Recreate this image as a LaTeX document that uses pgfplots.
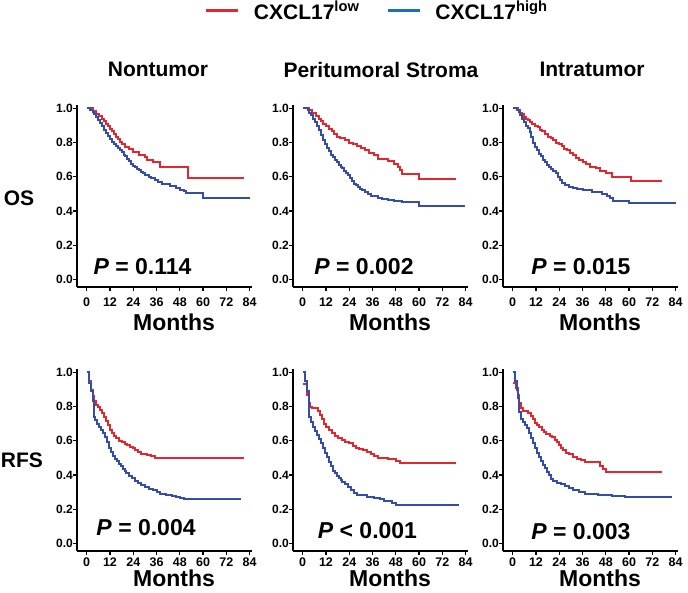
\documentclass[border=0pt]{standalone}
\usepackage{pgfplots}
\pgfplotsset{compat=1.18}
\usepackage{fontspec}
\setmainfont{Liberation Sans}
\definecolor{cred}{RGB}{228,38,46}
\definecolor{cblue}{RGB}{52,78,168}
\definecolor{lblue}{RGB}{30,110,190}
\pgfplotsset{
  km/.style={
    width=174.6pt, height=182pt, scale only axis,
    xmin=-5, xmax=85, ymin=-0.045, ymax=1.02,
    axis x line*=bottom, axis y line*=left,
    xtick={0,12,24,36,48,60,72,84},
    ytick={0,0.2,0.4,0.6,0.8,1.0},
    tick align=outside, major tick length=4pt,
    axis line style={line width=1.4pt},
    tick style={line width=1.2pt, black},
    /pgf/number format/assume math mode=true,
    xticklabel={\pgfmathprintnumber{\tick}},
    yticklabel={\pgfmathprintnumber[fixed,fixed zerofill,precision=1]{\tick}},
    xticklabel style={anchor=north, inner sep=0pt, font=\fontsize{12.5}{12.5}\selectfont\bfseries},
    yticklabel style={anchor=east, inner sep=0pt, font=\fontsize{12}{12}\selectfont\bfseries},
    xlabel={Months},
    xlabel style={font=\fontsize{23}{23}\selectfont\bfseries, at={(axis description cs:0.556,0)}, anchor=center},
    clip=false,
  },
  rowone/.style={xlabel style={yshift=-35pt}, xticklabel style={yshift=-7pt}},
  rowtwo/.style={xlabel style={yshift=-27pt}, xticklabel style={yshift=-3pt}},
  redc/.style={cred, line width=2pt, const plot, forget plot},
  bluec/.style={cblue, line width=2pt, const plot, forget plot},
}
\newcommand{\pfont}{\fontsize{23}{23}\selectfont\bfseries}
\begin{document}
\begin{tikzpicture}[x=1pt,y=1pt]
\useasboundingbox (0,0) rectangle (688,592);
\node[font=\fontsize{21}{21}\selectfont\bfseries] at (158,522.5) {Nontumor};
\node[font=\fontsize{21}{21}\selectfont\bfseries] at (381,522.5) {Peritumoral Stroma};
\node[font=\fontsize{21}{21}\selectfont\bfseries] at (592,522.5) {Intratumor};
\node[font=\fontsize{21}{21}\selectfont\bfseries] at (19,394) {OS};
\node[font=\fontsize{21}{21}\selectfont\bfseries] at (22,132) {RFS};

% ---------- Row 1: OS ----------
\begin{axis}[km, rowone, at={(77pt,305pt)}, anchor=south west,
  legend style={at={(axis description cs:0.733,1.5165)}, anchor=west, draw=none, fill=none,
    inner sep=0pt, outer sep=0pt, legend columns=2, column sep=0pt,
    font=\fontsize{21}{21}\selectfont\bfseries, nodes={inner sep=0pt}},
  legend image code/.code={\draw[#1] (0pt,0pt) -- (32pt,0pt); \path (46pt,0pt);}]
\addlegendimage{cred, line width=3pt}
\addlegendentry{CXCL17\textsuperscript{low}\hspace*{27pt}}
\addlegendimage{lblue, line width=3pt}
\addlegendentry{CXCL17\textsuperscript{high}}
\addplot[redc] coordinates {
(0,1.0) (3,0.985) (5,0.97) (6.5,0.955) (8,0.94) (9,0.925) (10,0.91) (11,0.895) (12,0.88) (13,0.865)
(14,0.85) (15,0.835) (16,0.82) (17,0.805) (18,0.79) (20,0.775) (22,0.76) (24,0.745) (27,0.73)
(30,0.715) (31,0.70) (34,0.685) (38,0.655) (52,0.595) (81,0.595)};
\addplot[bluec] coordinates {
(0,1.0) (1.5,0.99) (3,0.98) (4,0.965) (5,0.95) (6,0.935) (7,0.915) (8,0.895) (9,0.875) (10,0.855)
(11,0.84) (12,0.82) (13,0.805) (14,0.79) (15,0.78) (16,0.77) (17,0.755) (18,0.745) (19,0.73)
(20,0.72) (21,0.705) (22,0.69) (23,0.675) (24,0.665) (25,0.655) (26,0.645) (27,0.64) (28,0.63)
(29,0.62) (30,0.61) (32,0.60) (33,0.59) (35,0.58) (37,0.57) (39,0.56) (41,0.555) (43,0.545)
(46,0.535) (48,0.525) (50,0.515) (51,0.505) (60,0.475) (84,0.475)};
\node[font=\pfont] at (axis cs:28.8,0.075) {\textit{P} = 0.114};
\end{axis}

\begin{axis}[km, rowone, at={(293pt,305pt)}, anchor=south west]
\addplot[redc] coordinates {
(0,1.0) (3,0.99) (5,0.975) (7,0.955) (8.5,0.94) (9.5,0.925) (10.5,0.91) (12,0.895) (13.5,0.88)
(15,0.865) (16,0.85) (17.5,0.835) (19,0.825) (22,0.815) (24,0.80) (26,0.79) (28,0.78) (30,0.77)
(32,0.755) (34,0.74) (37,0.725) (39,0.705) (44,0.69) (47,0.675) (49,0.66) (50,0.64) (51,0.615)
(60,0.585) (79,0.585)};
\addplot[bluec] coordinates {
(0,1.0) (2.5,0.99) (3.5,0.975) (4.5,0.96) (5.5,0.94) (6.5,0.92) (7.5,0.90) (8.5,0.875) (9.5,0.845)
(10.5,0.815) (11.5,0.79) (12.5,0.77) (13.5,0.75) (14.5,0.73) (15.5,0.715) (16.5,0.70) (17.5,0.685)
(18.5,0.67) (19.5,0.66) (20.5,0.65) (21.5,0.635) (22.5,0.625) (23.5,0.61) (24.5,0.59) (25.5,0.575)
(26.5,0.56) (27.5,0.55) (28.5,0.54) (29.5,0.53) (30.5,0.52) (32,0.51) (33.5,0.50) (35,0.49)
(37,0.485) (39,0.475) (41,0.47) (44,0.465) (47,0.46) (51,0.455) (60,0.43) (83.5,0.43)};
\node[font=\pfont] at (axis cs:31.6,0.075) {\textit{P} = 0.002};
\end{axis}

\begin{axis}[km, rowone, at={(503pt,305pt)}, anchor=south west]
\addplot[redc] coordinates {
(0,1.0) (2.5,0.99) (4,0.975) (5,0.965) (6,0.95) (7,0.94) (8,0.93) (9,0.92) (10,0.91) (11.5,0.90)
(13,0.89) (14,0.875) (15,0.865) (16.5,0.85) (18,0.835) (19.5,0.825) (21,0.815) (22.5,0.80)
(24,0.79) (25.5,0.78) (26.5,0.765) (28,0.755) (29.5,0.74) (31,0.725) (32.5,0.71) (34,0.70)
(36,0.685) (38,0.675) (40,0.66) (43,0.65) (45,0.635) (48,0.62) (51,0.60) (61,0.575) (77,0.575)};
\addplot[bluec] coordinates {
(0,1.0) (2,0.99) (3,0.98) (4,0.96) (5,0.94) (6,0.92) (7,0.90) (8,0.885) (9,0.86) (9.5,0.83)
(10.5,0.80) (11.5,0.775) (12.5,0.755) (13.5,0.735) (14.5,0.72) (15.5,0.70) (16.5,0.685)
(17.5,0.67) (18.5,0.655) (19.5,0.645) (21,0.635) (22.5,0.625) (23.5,0.60) (24.5,0.58)
(25.5,0.565) (27,0.55) (29,0.54) (31,0.535) (33,0.53) (36,0.52) (41,0.51) (46,0.50) (48.5,0.49)
(50,0.475) (51.5,0.46) (60,0.445) (84,0.445)};
\node[font=\pfont] at (axis cs:35.2,0.075) {\textit{P} = 0.015};
\end{axis}

% ---------- Row 2: RFS ----------
\begin{axis}[km, rowtwo, at={(77pt,41pt)}, anchor=south west]
\addplot[redc] coordinates {
(0,1.0) (1,0.95) (2,0.90) (3,0.86) (4,0.83) (5,0.81) (6,0.795) (7,0.78) (8,0.76) (9,0.74)
(10,0.715) (11,0.69) (12,0.665) (13,0.645) (14,0.63) (15,0.615) (16.5,0.60) (18,0.59) (19.5,0.58)
(21,0.575) (22.5,0.565) (24,0.555) (25,0.545) (26.5,0.535) (28,0.525) (31,0.515) (33,0.51)
(35,0.50) (81,0.50)};
\addplot[bluec] coordinates {
(0,1.0) (1,0.94) (2,0.89) (3,0.83) (3.7,0.74) (4.5,0.72) (5.5,0.70) (6.5,0.68) (7.5,0.665)
(8.5,0.645) (9.5,0.62) (10.5,0.59) (11.5,0.56) (12.5,0.535) (13.5,0.51) (14.5,0.495) (15.5,0.48)
(16.5,0.465) (17.5,0.45) (18.5,0.435) (19.5,0.425) (20.5,0.41) (22,0.395) (23.5,0.38) (25,0.365)
(26.5,0.35) (28,0.34) (30,0.33) (32,0.32) (34,0.31) (36,0.30) (38,0.29) (41,0.285) (44,0.275)
(46,0.27) (48,0.265) (50,0.258) (79.5,0.258)};
\node[font=\pfont] at (axis cs:30.6,0.09) {\textit{P} = 0.004};
\end{axis}

\begin{axis}[km, rowtwo, at={(293pt,41pt)}, anchor=south west]
\addplot[redc] coordinates {
(0,0.93) (2,0.87) (3,0.82) (4,0.80) (5,0.79) (8,0.775) (9,0.75) (10,0.73) (11,0.70) (12,0.68)
(13.5,0.665) (15,0.645) (16.5,0.63) (18,0.615) (20,0.605) (22,0.595) (24,0.585) (26,0.57)
(27.5,0.56) (29,0.55) (31,0.545) (33,0.535) (35,0.52) (37,0.51) (39,0.50) (44,0.495) (48,0.48)
(50,0.47) (79,0.47)};
\addplot[bluec] coordinates {
(0,1.0) (1,0.95) (2,0.89) (3,0.83) (3.5,0.74) (4.5,0.71) (5.5,0.68) (6.5,0.655) (7.5,0.635)
(8.5,0.61) (9.5,0.585) (10.5,0.555) (11.5,0.53) (12.5,0.505) (13.5,0.475) (14.5,0.45) (15.5,0.425)
(16.5,0.41) (17.5,0.395) (18.5,0.38) (19.5,0.37) (20.5,0.36) (22,0.345) (23.5,0.33) (25,0.31)
(26.5,0.295) (28,0.285) (30,0.28) (33,0.27) (37,0.265) (40,0.26) (42,0.25) (44,0.245) (46,0.235)
(48,0.225) (80.5,0.225)};
\node[font=\pfont] at (axis cs:33.4,0.075) {\textit{P} < 0.001};
\end{axis}

\begin{axis}[km, rowtwo, at={(503pt,41pt)}, anchor=south west]
\addplot[redc] coordinates {
(0,0.94) (1.5,0.91) (2.5,0.87) (3.5,0.82) (4.5,0.79) (5.5,0.775) (8,0.765) (9.5,0.745)
(10.5,0.725) (11.5,0.705) (12.5,0.69) (13.5,0.68) (15,0.665) (16,0.65) (17,0.64) (19,0.63)
(20.5,0.62) (22,0.605) (23,0.59) (24,0.575) (25,0.555) (26,0.545) (27.5,0.53) (29,0.52)
(31,0.505) (33,0.495) (35,0.485) (37.5,0.478) (45,0.45) (46.5,0.435) (48,0.415) (77,0.415)};
\addplot[bluec] coordinates {
(0,1.0) (1,0.95) (2,0.90) (2.8,0.85) (3.5,0.77) (4.3,0.73) (5.5,0.71) (6.5,0.695) (7.5,0.675)
(8.5,0.645) (9.5,0.615) (10.5,0.585) (11.5,0.555) (12.5,0.53) (13.5,0.505) (14.5,0.48)
(15.5,0.46) (16.5,0.44) (17.5,0.42) (18.5,0.40) (19.5,0.375) (21,0.365) (23,0.355) (25,0.345)
(27,0.335) (29,0.325) (31,0.31) (34,0.30) (37.5,0.29) (44,0.285) (51,0.275) (58,0.27) (82,0.27)};
\node[font=\pfont] at (axis cs:35.2,0.07) {\textit{P} = 0.003};
\end{axis}
\end{tikzpicture}
\end{document}
